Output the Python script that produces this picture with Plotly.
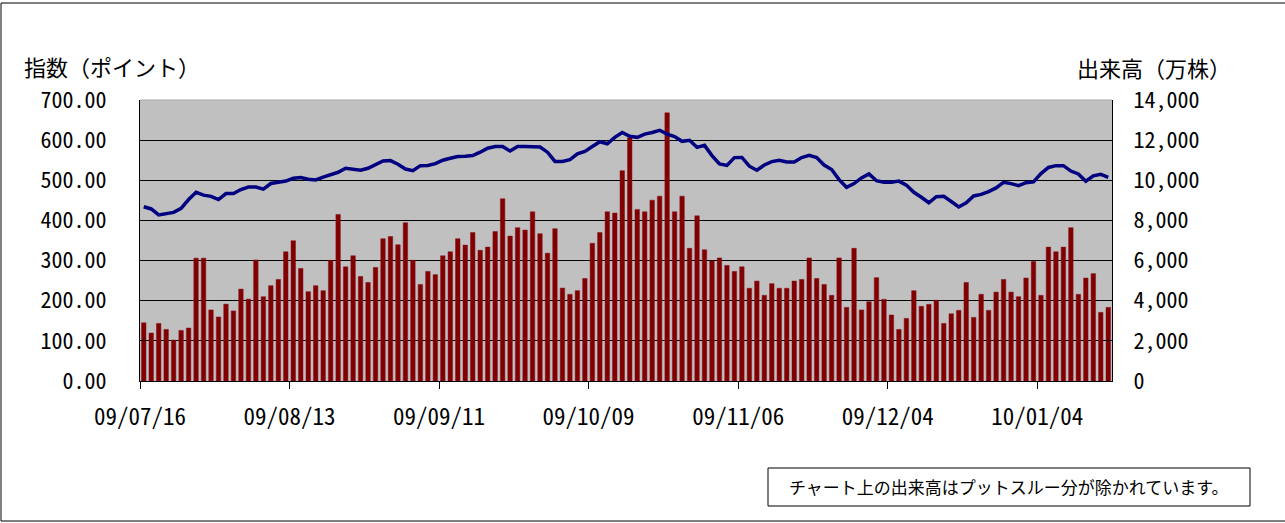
import plotly.graph_objects as go

# ---- data ----
tick_labels = ["09/07/16", "09/08/13", "09/09/11", "09/10/09", "09/11/06", "09/12/04", "10/01/04"]
tick_step = 20  # trading days between labelled dates

volume = [  # 出来高（万株）
    2900, 2390, 2870, 2570, 2040, 2520, 2640, 6120, 6120, 3540,
    3190, 3830, 3490, 4580, 4080, 6030, 4200, 4750, 5060, 6440,
    6990, 5610, 4450, 4750, 4500, 6010, 8300, 5690, 6240, 5210,
    4910, 5660, 7090, 7200, 6790, 7890, 6010, 4810, 5460, 5300,
    6240, 6440, 7090, 6770, 7400, 6510, 6670, 7450, 9080, 7220,
    7640, 7520, 8430, 7340, 6370, 7590, 4630, 4320, 4500, 5110,
    6860, 7400, 8430, 8370, 10480, 12120, 8550, 8430, 9010, 9210,
    13360, 8430, 9210, 6610, 8230, 6540, 5980, 6130, 5760, 5460,
    5690, 4620, 4980, 4270, 4850, 4620, 4620, 4980, 5060, 6130,
    5110, 4810, 4270, 6130, 3670, 6610, 3540, 3950, 5150, 4070,
    3290, 2570, 3120, 4500, 3720, 3820, 4020, 2870, 3350, 3520,
    4910, 3170, 4320, 3520, 4430, 5060, 4430, 4200, 5130, 5960,
    4270, 6670, 6440, 6670, 7640, 4320, 5130, 5350, 3420, 3670,
]

index_pts = [  # 指数（ポイント）
    434, 428.6, 413.6, 417, 420, 430, 452, 470, 463, 460,
    452, 467, 467, 477, 483, 483, 478, 492, 495, 498,
    505, 507, 502.5, 500.8, 508, 514, 520, 530, 528, 525,
    530, 540, 548, 549, 540, 528, 524, 536.5, 537, 541.5,
    550, 555, 559, 560, 561.5, 570, 580, 584, 584, 573,
    584, 584, 584, 583, 570, 547, 547, 551.5, 566, 572,
    584, 596, 591, 607, 619, 609.6, 607, 615, 619, 624.6,
    615, 608.8, 597, 599.7, 582, 587, 561.5, 540.7, 537, 556.5,
    557, 535, 525, 538, 546.5, 550, 545.7, 545.7, 556.5, 562,
    556.5, 538, 527, 501.7, 482.6, 491.7, 505.8, 515.8, 499, 495,
    495, 498, 488, 470, 457.6, 444, 459, 460, 447, 433.6,
    444, 461, 465, 471.8, 481, 495, 491.7, 486.7, 494, 496,
    516.6, 532, 536.5, 536.5, 523, 515.8, 497.5, 511, 515, 507.5,
]

# ---- layout geometry (pixels) ----
W, H = 1285, 523
PL, PR, PT, PB = 140, 1112, 100, 381  # plot area box


def px(x):
    return (x - PL) / (PR - PL)


def py(y):
    return (PB - y) / (PB - PT)


n = len(volume)
xs = list(range(n))
tickvals = [i * tick_step - 0.5 for i in range(len(tick_labels))]

NUM_FONT = "Noto Sans Mono CJK JP, Noto Sans CJK JP, monospace"
JP_FONT = "Noto Sans CJK JP, sans-serif"

fig = go.Figure()
fig.add_trace(go.Bar(
    x=xs, y=volume, yaxis="y", width=0.6,
    marker=dict(color="#800000", line=dict(color="#8a1020", width=0.5)),
    name="出来高", showlegend=False, hoverinfo="y",
))
fig.add_trace(go.Scatter(
    x=xs, y=index_pts, yaxis="y2", mode="lines",
    line=dict(color="#000080", width=3.5),
    name="指数", showlegend=False,
))

fig.update_layout(
    width=W, height=H,
    margin=dict(l=PL, r=W - PR, t=PT, b=H - PB, autoexpand=False),
    paper_bgcolor="white",
    plot_bgcolor="#C0C0C0",
    bargap=0.4,
    xaxis=dict(
        range=[-0.5, n - 0.5],
        tickmode="array", tickvals=tickvals, ticktext=tick_labels,
        ticks="outside", ticklen=7, tickcolor="black",
        showline=True, linecolor="black", linewidth=1,
        showgrid=False, zeroline=False,
        tickfont=dict(family=NUM_FONT, size=23, color="black"),
        ticklabelstandoff=8,
    ),
    yaxis=dict(  # volume, right side
        side="right", range=[0, 14000], dtick=2000, tickformat=",d",
        ticks="inside", ticklen=6, tickcolor="black",
        showline=True, linecolor="black", linewidth=1,
        showgrid=True, gridcolor="black", gridwidth=1, zeroline=False,
        tickfont=dict(family=NUM_FONT, size=22, color="black"),
        ticklabelstandoff=16,
    ),
    yaxis2=dict(  # index, left side
        side="left", overlaying="y", range=[0, 700], dtick=100, tickformat=".2f",
        ticks="inside", ticklen=6, tickcolor="black",
        showline=True, linecolor="black", linewidth=1,
        showgrid=False, zeroline=False,
        tickfont=dict(family=NUM_FONT, size=22, color="black"),
        ticklabelstandoff=28,
    ),
    shapes=[
        # outer chart border
        dict(type="rect", xref="paper", yref="paper",
             x0=px(1), x1=px(1290), y0=py(521), y1=py(3),
             line=dict(color="black", width=1), fillcolor="rgba(0,0,0,0)"),
        # light top edge of the plot area
        dict(type="line", xref="paper", yref="paper",
             x0=0, x1=1, y0=1, y1=1, line=dict(color="#A8A8A8", width=1)),
        # note box
        dict(type="rect", xref="paper", yref="paper",
             x0=px(768), x1=px(1250), y0=py(506), y1=py(468),
             line=dict(color="black", width=1), fillcolor="white"),
    ],
    annotations=[
        dict(text="指数（ポイント）", xref="paper", yref="paper",
             x=px(22), y=py(66), xanchor="left", yanchor="middle",
             showarrow=False, font=dict(family=JP_FONT, size=22, color="black")),
        dict(text="出来高（万株）", xref="paper", yref="paper",
             x=px(1075), y=py(67), xanchor="left", yanchor="middle",
             showarrow=False, font=dict(family=JP_FONT, size=22, color="black")),
        dict(text="チャート上の出来高はプットスルー分が除かれています。", xref="paper", yref="paper",
             x=px(1009), y=py(487), xanchor="center", yanchor="middle",
             showarrow=False, font=dict(family=JP_FONT, size=17, color="black")),
    ],
)

fig.write_html("out.html", config={"displayModeBar": False},
               post_script="document.body.style.margin='0';")
